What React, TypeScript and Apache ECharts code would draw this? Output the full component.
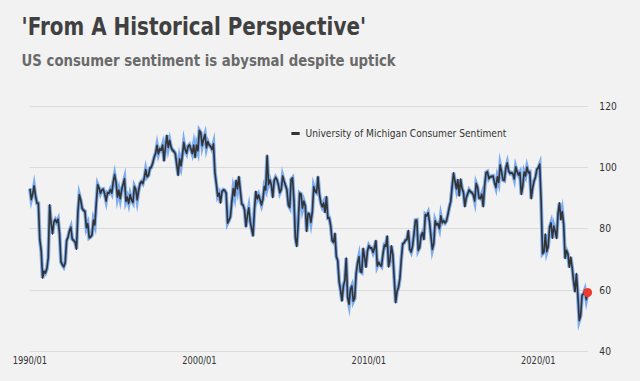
import React, { useEffect, useRef } from "react";
import * as echarts from "echarts";

const TITLE = "'From A Historical Perspective'";
const SUBTITLE = "US consumer sentiment is abysmal despite uptick";
const SERIES_NAME = "University of Michigan Consumer Sentiment";
const START_YEAR = 1990;

// Monthly index values, Jan..Dec of each year from 1990 to 2022
const y1990 = [93.0, 89.5, 91.3, 93.9, 90.6, 88.3, 88.2, 76.4, 72.8, 63.9, 66.0, 65.5];
const y1991 = [66.8, 70.4, 87.7, 81.8, 78.3, 82.1, 82.9, 82.0, 83.0, 78.3, 69.1, 68.2];
const y1992 = [67.5, 68.8, 76.0, 77.2, 79.2, 80.4, 76.6, 76.1, 75.6, 73.3, 85.3, 91.0];
const y1993 = [89.3, 86.6, 85.9, 85.6, 80.3, 81.5, 77.0, 77.3, 77.9, 82.7, 81.2, 88.2];
const y1994 = [94.3, 93.2, 91.5, 92.6, 92.8, 91.2, 89.0, 91.7, 91.5, 92.7, 91.6, 95.1];
const y1995 = [97.6, 95.1, 90.3, 92.5, 89.8, 92.7, 94.4, 96.2, 88.9, 90.2, 88.2, 91.0];
const y1996 = [89.3, 88.5, 93.7, 92.7, 89.4, 92.4, 94.7, 95.3, 94.7, 96.5, 99.2, 96.9];
const y1997 = [97.4, 99.7, 100.0, 101.4, 103.2, 104.5, 107.1, 104.4, 106.0, 105.6, 107.2, 102.1];
const y1998 = [106.6, 110.4, 106.5, 108.7, 106.5, 105.6, 105.2, 104.4, 100.9, 97.4, 102.7, 100.5];
const y1999 = [103.9, 108.1, 105.7, 104.6, 106.8, 107.3, 106.0, 104.5, 107.2, 103.2, 107.2, 105.4];
const y2000 = [112.0, 111.3, 107.1, 109.2, 110.7, 106.4, 108.3, 107.3, 106.8, 105.8, 107.6, 98.4];
const y2001 = [94.7, 90.6, 91.5, 88.4, 92.0, 92.6, 92.4, 91.5, 81.8, 82.7, 83.9, 88.8];
const y2002 = [93.0, 90.7, 95.7, 93.0, 96.9, 92.4, 88.1, 87.6, 86.1, 80.6, 84.2, 86.7];
const y2003 = [82.4, 79.9, 77.6, 86.0, 92.1, 89.7, 90.9, 89.3, 87.7, 89.6, 93.7, 92.6];
const y2004 = [103.8, 94.4, 95.8, 94.2, 90.2, 95.6, 96.7, 95.9, 94.2, 91.7, 92.8, 97.1];
const y2005 = [95.5, 94.1, 92.6, 87.7, 86.9, 96.0, 96.5, 89.1, 76.9, 74.2, 81.6, 91.5];
const y2006 = [91.2, 86.7, 88.9, 87.4, 79.1, 84.9, 84.7, 82.0, 85.4, 93.6, 92.1, 91.7];
const y2007 = [96.9, 91.3, 88.4, 87.1, 88.3, 85.3, 90.4, 83.4, 83.4, 80.9, 76.1, 75.5];
const y2008 = [78.4, 70.8, 69.5, 62.6, 59.8, 56.4, 61.2, 63.0, 70.3, 57.6, 55.3, 60.1];
const y2009 = [61.2, 56.3, 57.3, 65.1, 68.7, 70.8, 66.0, 65.7, 73.5, 70.6, 67.4, 72.5];
const y2010 = [74.4, 73.6, 73.6, 72.2, 73.6, 76.0, 67.8, 68.9, 68.2, 67.7, 71.6, 74.5];
const y2011 = [74.2, 77.5, 67.5, 69.8, 74.3, 71.5, 63.7, 55.8, 59.5, 60.8, 63.7, 69.9];
const y2012 = [75.0, 75.3, 76.2, 76.4, 79.3, 73.2, 72.3, 74.3, 78.3, 82.6, 82.7, 72.9];
const y2013 = [73.8, 77.6, 78.6, 76.4, 84.5, 84.1, 85.1, 82.1, 77.5, 73.2, 75.1, 82.5];
const y2014 = [81.2, 81.6, 80.0, 84.1, 81.9, 82.5, 81.8, 82.5, 84.6, 86.9, 88.8, 93.6];
const y2015 = [98.1, 95.4, 93.0, 95.9, 90.7, 96.1, 93.1, 91.9, 87.2, 90.0, 91.3, 92.6];
const y2016 = [92.0, 91.7, 91.0, 89.0, 94.7, 93.5, 90.0, 89.8, 91.2, 87.2, 93.8, 98.2];
const y2017 = [98.5, 96.3, 96.9, 97.0, 97.1, 95.0, 93.4, 96.8, 95.1, 100.7, 98.5, 95.9];
const y2018 = [95.7, 99.7, 101.4, 98.8, 98.0, 98.2, 97.9, 96.2, 100.1, 98.6, 97.5, 98.3];
const y2019 = [91.2, 93.8, 98.4, 97.2, 100.0, 98.2, 98.4, 89.8, 93.2, 95.5, 96.8, 99.3];
const y2020 = [99.8, 101.0, 89.1, 71.8, 72.3, 78.1, 72.5, 74.1, 80.4, 81.8, 76.9, 80.7];
const y2021 = [79.0, 76.8, 84.9, 88.3, 82.9, 85.5, 81.2, 70.3, 72.8, 71.7, 67.4, 70.6];
const y2022 = [67.2, 62.8, 59.4, 65.2, 58.4, 50.0, 51.5, 58.2, 58.6, 59.9, 56.8, 59.1];

const yearly = [
  y1990, y1991, y1992, y1993, y1994, y1995, y1996, y1997, y1998, y1999,
  y2000, y2001, y2002, y2003, y2004, y2005, y2006, y2007, y2008, y2009,
  y2010, y2011, y2012, y2013, y2014, y2015, y2016, y2017, y2018, y2019,
  y2020, y2021, y2022,
];

const values: number[] = [];
const categories: string[] = [];
yearly.forEach((arr, yi) => {
  arr.forEach((v, mi) => {
    values.push(v);
    categories.push(`${START_YEAR + yi}/${String(mi + 1).padStart(2, "0")}`);
  });
});

const yTicks = { min: 40, max: 120, interval: 20 };

const SCALE = 640 / 771;
const FONT = "'DejaVu Sans', Verdana, sans-serif";

export default function App() {
  const ref = useRef<HTMLDivElement>(null);
  useEffect(() => {
    if (!ref.current) return;
    const chart = echarts.init(ref.current, null, { renderer: "svg" });
    const lastIdx = values.length - 1;
    chart.setOption({
      animation: false,
      backgroundColor: "#f2f2f2",
      title: [
        {
          text: TITLE,
          left: 21,
          top: 10,
          textStyle: { fontFamily: FONT, fontSize: 24, fontWeight: "bold", color: "#404040" },
        },
        {
          text: SUBTITLE,
          left: 21,
          top: 47,
          textStyle: { fontFamily: FONT, fontSize: 16, fontWeight: "bold", color: "#6a6a6a" },
        },
      ],
      legend: {
        data: [SERIES_NAME],
        left: 346,
        top: 123,
        icon: "rect",
        itemWidth: 10,
        itemHeight: 3,
        itemGap: 10,
        textStyle: { fontFamily: FONT, fontSize: 11, color: "#333", padding: [0, 0, 0, 2] },
      },
      grid: { left: 36, right: 63, top: 106, bottom: 30 },
      xAxis: {
        type: "category",
        data: categories,
        boundaryGap: false,
        axisLine: { show: false },
        axisTick: { show: false },
        splitLine: { show: false },
        axisLabel: {
          fontFamily: FONT,
          fontSize: 10,
          color: "#333",
          margin: 4,
          interval: (i: number, v: string) =>
            v.endsWith("/01") && Number(v.slice(0, 4)) % 10 === 0,
        },
      },
      yAxis: {
        type: "value",
        position: "right",
        min: yTicks.min,
        max: yTicks.max,
        interval: yTicks.interval,
        axisLine: { show: false },
        axisTick: { show: false },
        splitLine: { lineStyle: { color: "#d9d9d9", width: 1 } },
        axisLabel: { fontFamily: FONT, fontSize: 11, color: "#333", margin: 14 },
      },
      series: [
        {
          name: "glow",
          type: "line",
          data: values,
          symbol: "none",
          silent: true,
          lineStyle: {
            color: "rgba(105,160,238,0.85)",
            width: 4.5,
            join: "miter",
            miterLimit: 6,
          },
          z: 1,
        },
        {
          name: SERIES_NAME,
          type: "line",
          data: values,
          symbol: "none",
          itemStyle: { color: "#333" },
          lineStyle: { color: "#333", width: 2, join: "round" },
          z: 2,
        },
        {
          name: "latest",
          type: "scatter",
          data: [[categories[lastIdx], values[lastIdx]]],
          symbol: "circle",
          symbolSize: [10.5, 9],
          itemStyle: { color: "#ee3b2e", opacity: 1 },
          z: 3,
        },
      ],
    });
    return () => chart.dispose();
  }, []);

  return (
    <div
      style={{
        position: "fixed",
        left: 0,
        top: 0,
        width: 640,
        height: 381,
        overflow: "hidden",
        background: "#f2f2f2",
      }}
    >
      <div
        ref={ref}
        style={{
          width: 771,
          height: 381,
          transform: `scaleX(${SCALE})`,
          transformOrigin: "0 0",
        }}
      />
    </div>
  );
}
